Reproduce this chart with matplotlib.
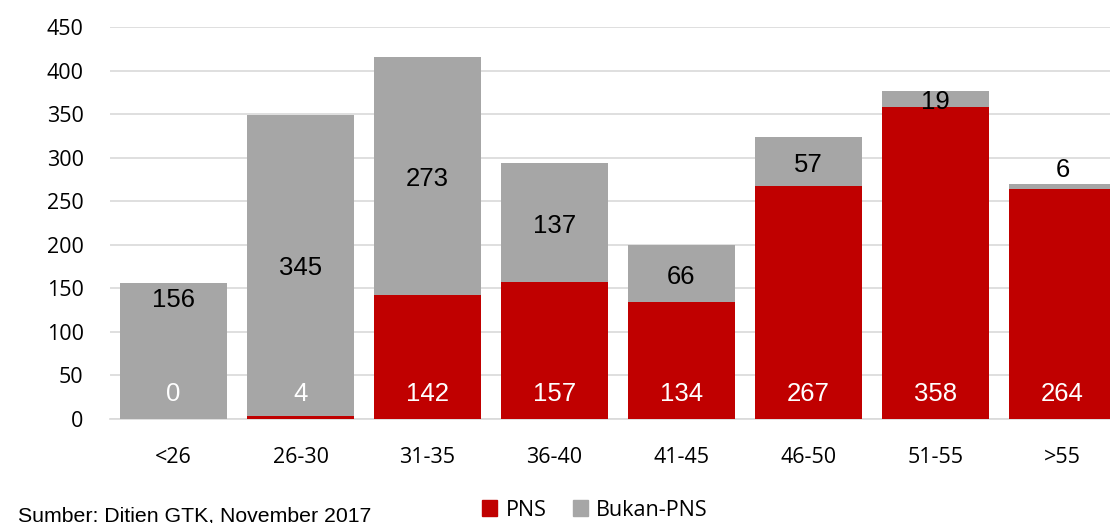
import matplotlib
matplotlib.use("Agg")
import matplotlib.pyplot as plt
import matplotlib.transforms as mtransforms
from matplotlib.patches import Patch

categories = ["<26", "26-30", "31-35", "36-40", "41-45", "46-50", "51-55", ">55"]
pns = [0, 4, 142, 157, 134, 267, 358, 264]
bukan_pns = [156, 345, 273, 137, 66, 57, 19, 6]
yticks = [0, 50, 100, 150, 200, 250, 300, 350, 400, 450]
source_text = "Sumber: Ditien GTK, November 2017"

RED = "#C00000"
GRAY = "#A6A6A6"
W, H = 1110, 523

fig = plt.figure(figsize=(W / 100, H / 100), dpi=100)
ax = fig.add_axes([110 / W, 104 / H, 1016 / W, 392 / H])

x = list(range(len(categories)))
ax.bar(x, pns, width=0.835, color=RED, zorder=3)
ax.bar(x, bukan_pns, width=0.835, bottom=pns, color=GRAY, zorder=3)

ax.set_xlim(-0.5, len(categories) - 0.5)
ax.set_ylim(0, 450)
ax.set_yticks(yticks)
ax.set_xticks(x)
ax.set_xticklabels(categories)
ax.grid(axis="y", color="#D9D9D9", linewidth=1.2, zorder=0)
for s in ["top", "right", "left"]:
    ax.spines[s].set_visible(False)
ax.spines["bottom"].set_color("#D9D9D9")
ax.spines["bottom"].set_linewidth(1.2)
ax.tick_params(axis="both", length=0, labelsize=15.5, labelcolor="black")
ax.tick_params(axis="y", pad=19)
ax.tick_params(axis="x", pad=20)
for lbl in ax.get_xticklabels() + ax.get_yticklabels():
    lbl.set_fontfamily("Open Sans")

label_font = dict(family="Liberation Sans", fontsize=18.5)

# PNS labels at inside base
base = mtransforms.offset_copy(ax.transData, fig=fig, x=0, y=25, units="dots")
for xi, v in zip(x, pns):
    ax.text(xi, 0, str(v), transform=base, ha="center", va="center",
            color="white", zorder=5, **label_font)

# Bukan-PNS labels: centered in segment; small/special segments nudged
nudge = {0: 140 - (156 / 2), 7: 289 - 267}
shift = mtransforms.offset_copy(ax.transData, fig=fig, x=0, y=-3, units="dots")
for xi, p, b in zip(x, pns, bukan_pns):
    y = p + b / 2 + nudge.get(xi, 0)
    ax.text(xi, y, str(b), transform=shift, ha="center", va="center",
            color="black", zorder=5, **label_font)

handles = [Patch(color=RED, label="PNS"), Patch(color=GRAY, label="Bukan-PNS")]
fig.legend(handles=handles, loc="center", bbox_to_anchor=(595 / W, 1 - 510 / H),
           ncol=2, frameon=False, prop=dict(family="Open Sans", size=15.5),
           handlelength=0.7, handleheight=0.7, handletextpad=0.4,
           columnspacing=1.2)

fig.text(18 / W, 2 / H, source_text, ha="left", va="baseline",
         family="Liberation Sans", fontsize=15.3, color="black")

fig.savefig("out.png", dpi=100)
